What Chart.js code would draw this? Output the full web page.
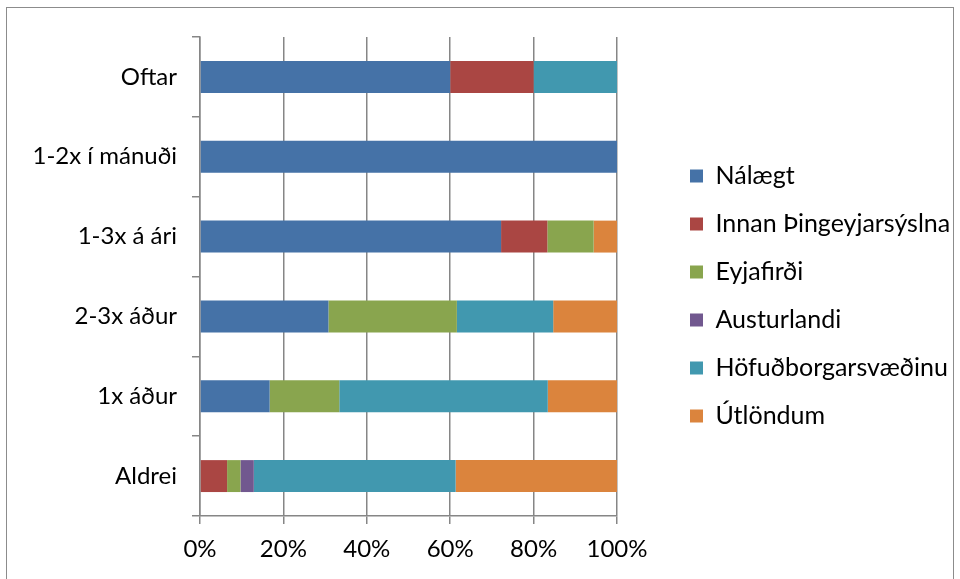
<!DOCTYPE html>
<html>
<head>
<meta charset="utf-8">
<script src="https://cdn.jsdelivr.net/npm/chart.js@4"></script>
<style>
    body { margin: 0; background: #fff; }
    #frame { position: absolute; left: 6px; top: 7px; width: 946px; height: 580px; border: 1.5px solid #8c8c8c; }
    #chart { position: absolute; left: 0; top: 0; }
</style>
</head>
<body>
<div id="frame"></div>
<canvas id="chart" width="960" height="579"></canvas>
<script>
const categories = ["Oftar", "1-2x í mánuði", "1-3x á ári", "2-3x áður", "1x áður", "Aldrei"];
const seriesNames = ["Nálægt", "Innan Þingeyjarsýslna", "Eyjafirði", "Austurlandi", "Höfuðborgarsvæðinu", "Útlöndum"];
const colors = ["#4572A7", "#AA4643", "#89A54E", "#71588F", "#4198AF", "#DB843D"];

// percentage shares per category
const nalaegt = [60, 100, 72.2, 30.8, 16.7, 0];
const innan = [20, 0, 11.1, 0, 0, 6.5];
const eyjafirdi = [0, 0, 11.1, 30.8, 16.7, 3.2];
const austurlandi = [0, 0, 0, 0, 0, 3.2];
const hofudborg = [20, 0, 0, 23.1, 50, 48.4];
const utlondum = [0, 0, 5.6, 15.4, 16.6, 38.7];
const xTicks = [0, 20, 40, 60, 80, 100];

const values = [nalaegt, innan, eyjafirdi, austurlandi, hofudborg, utlondum];
const font = "Lato, 'Open Sans', sans-serif";

// legend sits in the space right of the plot, like the original
const legendSpot = {
    id: "legendSpot",
    beforeLayout(chart) {
        const lg = chart.legend;
        if (lg && !lg._wrapped) {
            const fit0 = lg.fit;
            lg.fit = function () { fit0.call(this); this.width = 343; };
            lg._wrapped = true;
        }
    },
    afterLayout(chart) {
        const lg = chart.legend;
        const dx = 667 - lg.left, dy = -12;
        lg.left += dx; lg.right += dx;
        lg.top += dy; lg.bottom += dy;
    }
};

new Chart(document.getElementById("chart"), {
    type: "bar",
    data: {
        labels: categories,
        datasets: seriesNames.map((name, i) => ({
            label: name,
            data: values[i],
            backgroundColor: colors[i],
            barPercentage: 0.4,
            categoryPercentage: 1
        }))
    },
    options: {
        indexAxis: "y",
        responsive: false,
        animation: false,
        layout: { padding: { top: 37, left: 0, right: 0, bottom: 0 } },
        plugins: {
            tooltip: { enabled: false },
            legend: {
                position: "right",
                align: "center",
                labels: {
                    boxWidth: 13,
                    boxHeight: 13,
                    padding: 23,
                    color: "#000",
                    font: { family: font, size: 25 }
                }
            }
        },
        scales: {
            x: {
                stacked: true,
                min: 0,
                max: 100,
                afterBuildTicks: s => { s.ticks = xTicks.map(v => ({ value: v })); },
                afterFit: s => { s.height = 63; },
                ticks: { callback: v => v + "%", color: "#000", font: { family: font, size: 24 }, padding: 11 },
                grid: { color: "#868686", lineWidth: 1.5, tickLength: 8 },
                border: { color: "#868686", width: 1.5 }
            },
            y: {
                stacked: true,
                afterFit: s => { s.width = 200; },
                ticks: { color: "#000", font: { family: font, size: 24 }, padding: 15 },
                grid: { offset: true, drawOnChartArea: false, color: "#868686", lineWidth: 1.5, tickLength: 8 },
                border: { color: "#868686", width: 1.5 }
            }
        }
    },
    plugins: [legendSpot]
});
</script>
</body>
</html>
